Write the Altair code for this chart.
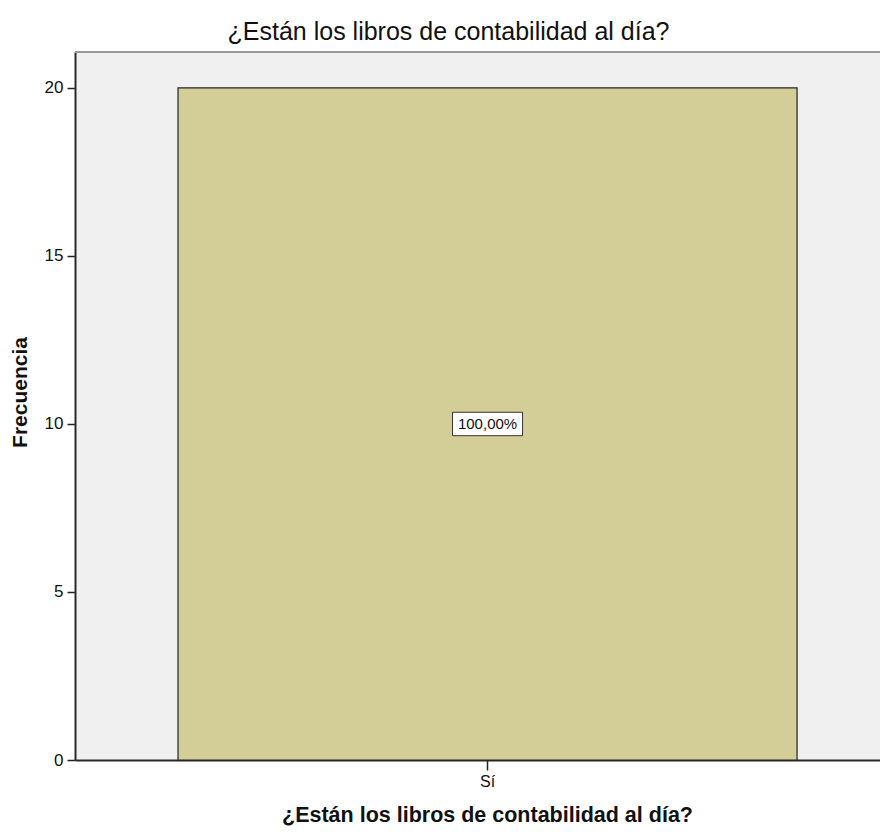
import altair as alt
import pandas as pd

categories = ["Sí"]
counts = [20]
percent_labels = ["100,00%"]

title_text = "¿Están los libros de contabilidad al día?"
x_title = "¿Están los libros de contabilidad al día?"
y_title = "Frecuencia"
y_ticks = [0, 5, 10, 15, 20]

df = pd.DataFrame({
    "cat": categories,
    "count": counts,
    "label": percent_labels,
})
df["mid"] = df["count"] / 2

W, H = 805, 708
FONT = "Liberation Sans"

x_enc = alt.X(
    "cat:N",
    sort=categories,
    scale=alt.Scale(paddingInner=0, paddingOuter=0.1502, align=0.554),
    axis=alt.Axis(
        title=x_title,
        labelAngle=0,
        tickSize=10,
        tickColor="#222222",
        tickWidth=1.5,
        labelPadding=3,
        labelFont=FONT,
        labelFontSize=16,
        labelColor="#111111",
        domainColor="#2a2a2a",
        domainWidth=2,
        titleFont=FONT,
        titleFontSize=21.5,
        titleFontWeight="bold",
        titleColor="#111111",
        titleX=412,
        titleY=61,
        titleBaseline="alphabetic",
        titleAlign="center",
    ),
)

y_scale = alt.Scale(domain=[0, 21.07], nice=False, zero=True)

bars = alt.Chart(df).mark_bar(
    fill="#d3ce98", stroke="#222222", strokeWidth=1.2
).encode(
    x=x_enc,
    y=alt.Y(
        "count:Q",
        scale=y_scale,
        axis=alt.Axis(
            title=y_title,
            values=y_ticks,
            grid=False,
            tickSize=8,
            tickColor="#222222",
            tickWidth=1.5,
            labelPadding=4,
            labelFont=FONT,
            labelFontSize=17,
            labelColor="#111111",
            domainColor="#2a2a2a",
            domainWidth=2,
            titleFont=FONT,
            titleFontSize=21,
            titleFontWeight="bold",
            titleColor="#111111",
            titleAngle=270,
            titleX=-55,
            titleY=340,
            titleBaseline="middle",
            titleAlign="center",
        ),
    ),
)

top_border = alt.Chart(df).mark_rule(color="#9a9a9a", strokeWidth=2).encode(
    x=alt.value(0), x2=alt.value(W), y=alt.value(0)
)

box = alt.Chart(df).mark_point(
    shape="M-1,-0.335L1,-0.335L1,0.335L-1,0.335Z",
    size=4900,
    filled=False,
    fill="white",
    fillOpacity=1,
    stroke="#333333",
    strokeWidth=1,
    opacity=1,
).encode(
    x=alt.X("cat:N", sort=categories),
    y=alt.Y("mid:Q", scale=y_scale),
)

text = alt.Chart(df).mark_text(
    font=FONT, fontSize=15, color="#111111", baseline="middle", align="center"
).encode(
    x=alt.X("cat:N", sort=categories),
    y=alt.Y("mid:Q", scale=y_scale),
    text="label:N",
)

chart = alt.layer(bars, box, text, top_border).properties(
    width=W,
    height=H,
    background="white",
    title=alt.TitleParams(
        text=title_text,
        font=FONT,
        fontSize=25,
        fontWeight="normal",
        color="#111111",
        anchor="middle",
        frame="group",
        baseline="alphabetic",
        offset=-14,
        dx=-29,
    ),
    autosize=alt.AutoSizeParams(type="none"),
    padding={"left": 67, "top": 44, "right": 0, "bottom": 66},
).configure_view(
    fill="#f0f0f0", strokeWidth=0
)

chart.save("out.html", embed_options={"renderer": "svg", "actions": False})
